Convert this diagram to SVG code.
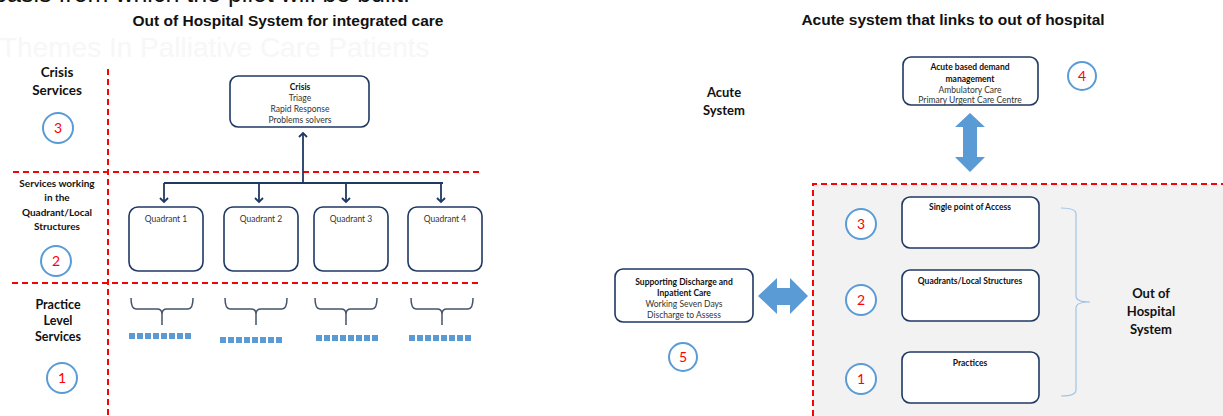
<svg xmlns="http://www.w3.org/2000/svg" width="1223" height="416" viewBox="0 0 1223 416">
<style>
.title{font-family:"Liberation Sans",Arial,sans-serif;font-weight:bold;font-size:15.5px;fill:#111;text-anchor:middle}
.lbl{font-family:Lato,"Liberation Sans",sans-serif;font-weight:bold;fill:#111;text-anchor:middle}
.bx{fill:#fff;stroke:#1f3864;stroke-width:1.6}
.bt{font-family:Lato,"Liberation Sans",sans-serif;font-size:8.5px;fill:#333;text-anchor:middle}
.bb{font-weight:bold;fill:#111}
.red{stroke:#ff0000;stroke-width:2;stroke-dasharray:6 4;fill:none}
.circ{fill:#fff;stroke:#5b9bd5;stroke-width:2}
.num{font-family:Lato,"Liberation Sans",sans-serif;font-size:14px;fill:#ff0000;text-anchor:middle}
.nav{stroke:#1f3864;stroke-width:1.8;fill:none}
.brk{stroke:#44546a;stroke-width:1.5;fill:none}
.sq{fill:#5b9bd5}
.bigarrow{fill:#5b9bd5}
</style>
<defs>
<marker id="ah" markerWidth="10" markerHeight="10" refX="5" refY="5" orient="auto" markerUnits="userSpaceOnUse">
<path d="M1,1 L5,5 L1,9" fill="none" stroke="#1f3864" stroke-width="1.8"/>
</marker>
</defs>
<rect width="1223" height="416" fill="#fff"/>
<text x="410" y="2" font-family="Liberation Sans,Arial,sans-serif" font-size="25" fill="#111" text-anchor="end">basis from which the pilot will be built.</text>
<text x="0" y="57" font-family="Liberation Sans,Arial,sans-serif" font-size="28" fill="#f7f7f7">Themes In Palliative Care Patients</text>
<text class="title" x="288" y="26">Out of Hospital System for integrated care</text>
<text class="title" x="953" y="25">Acute system that links to out of hospital</text>

<g id="dividers">
<line class="red" x1="108" y1="69" x2="108" y2="416"/>
<line class="red" x1="13" y1="172" x2="482" y2="172"/>
<line class="red" x1="12" y1="283" x2="482" y2="283"/>
</g>

<g id="row-labels">
<text class="lbl" x="57" y="77" font-size="13.5">Crisis</text>
<text class="lbl" x="57" y="95" font-size="13.5">Services</text>
<text class="lbl" x="57" y="187" font-size="10">Services working</text>
<text class="lbl" x="57" y="201" font-size="10">in the</text>
<text class="lbl" x="57" y="216" font-size="10">Quadrant/Local</text>
<text class="lbl" x="57" y="230" font-size="10">Structures</text>
<text class="lbl" x="58" y="309" font-size="12.5">Practice</text>
<text class="lbl" x="58" y="325" font-size="12.5">Level</text>
<text class="lbl" x="58" y="341" font-size="12.5">Services</text>
</g>

<g id="c3l"><circle class="circ" cx="58" cy="128" r="15"/><text class="num" x="58" y="133">3</text></g>
<g id="c2l"><circle class="circ" cx="56" cy="261" r="15"/><text class="num" x="56" y="266">2</text></g>
<g id="c1l"><circle class="circ" cx="62" cy="378" r="15"/><text class="num" x="62" y="383">1</text></g>

<g id="crisis">
<rect class="bx" x="230" y="76" width="139" height="51" rx="8"/>
<text class="bt bb" x="300" y="90">Crisis</text>
<text class="bt" x="300" y="101">Triage</text>
<text class="bt" x="300" y="112">Rapid Response</text>
<text class="bt" x="300" y="123">Problems solvers</text>
</g>

<g id="connectors">
<line class="nav" x1="303" y1="172" x2="303" y2="133" marker-end="url(#ah)"/>
<line class="nav" x1="303" y1="183" x2="303" y2="172"/>
<line class="nav" x1="164" y1="183" x2="443" y2="183"/>
<line class="nav" x1="164" y1="183" x2="164" y2="202" marker-end="url(#ah)"/>
<line class="nav" x1="259" y1="183" x2="259" y2="202" marker-end="url(#ah)"/>
<line class="nav" x1="346" y1="183" x2="346" y2="202" marker-end="url(#ah)"/>
<line class="nav" x1="441" y1="183" x2="441" y2="202" marker-end="url(#ah)"/>
</g>

<g id="q1"><rect class="bx" x="129" y="207" width="74" height="64" rx="9"/><text class="bt" x="166" y="222" font-size="9">Quadrant 1</text></g>
<g id="q2"><rect class="bx" x="224" y="207" width="74" height="64" rx="9"/><text class="bt" x="261" y="222" font-size="9">Quadrant 2</text></g>
<g id="q3"><rect class="bx" x="314" y="207" width="74" height="64" rx="9"/><text class="bt" x="351" y="222" font-size="9">Quadrant 3</text></g>
<g id="q4"><rect class="bx" x="408" y="207" width="74" height="64" rx="9"/><text class="bt" x="445" y="222" font-size="9">Quadrant 4</text></g>

<g id="practices">
<path class="brk" d="M131,298 Q131,309 136,309 L157,309 Q162,309 162,314 L162,325 M162,314 Q162,309 167,309 L188,309 Q193,309 193,298"/>
<path class="brk" d="M225,298 Q225,309 230,309 L251,309 Q256,309 256,314 L256,325 M256,314 Q256,309 261,309 L282,309 Q287,309 287,298"/>
<path class="brk" d="M315,298 Q315,309 320,309 L341,309 Q346,309 346,314 L346,325 M346,314 Q346,309 351,309 L372,309 Q377,309 377,298"/>
<path class="brk" d="M411,298 Q411,309 416,309 L437,309 Q442,309 442,314 L442,325 M442,314 Q442,309 447,309 L468,309 Q473,309 473,298"/>
<g class="sq">
<rect x="129" y="333" width="6" height="6"/><rect x="137" y="333" width="6" height="6"/><rect x="145" y="333" width="6" height="6"/><rect x="153" y="333" width="6" height="6"/><rect x="161" y="333" width="6" height="6"/><rect x="169" y="333" width="6" height="6"/><rect x="177" y="333" width="6" height="6"/><rect x="185" y="333" width="6" height="6"/>
<rect x="220" y="337" width="6" height="6"/><rect x="228" y="337" width="6" height="6"/><rect x="236" y="337" width="6" height="6"/><rect x="244" y="337" width="6" height="6"/><rect x="252" y="337" width="6" height="6"/><rect x="260" y="337" width="6" height="6"/><rect x="268" y="337" width="6" height="6"/><rect x="276" y="337" width="6" height="6"/>
<rect x="316" y="335" width="6" height="6"/><rect x="324" y="335" width="6" height="6"/><rect x="332" y="335" width="6" height="6"/><rect x="340" y="335" width="6" height="6"/><rect x="348" y="335" width="6" height="6"/><rect x="356" y="335" width="6" height="6"/><rect x="364" y="335" width="6" height="6"/><rect x="372" y="335" width="6" height="6"/>
<rect x="409" y="335" width="6" height="6"/><rect x="417" y="335" width="6" height="6"/><rect x="425" y="335" width="6" height="6"/><rect x="433" y="335" width="6" height="6"/><rect x="441" y="335" width="6" height="6"/><rect x="449" y="335" width="6" height="6"/><rect x="457" y="335" width="6" height="6"/><rect x="465" y="335" width="6" height="6"/>
</g>
</g>

<g id="acute-label">
<text class="lbl" x="724" y="97" font-size="13">Acute</text>
<text class="lbl" x="724" y="115" font-size="13">System</text>
</g>

<g id="acute-box">
<rect class="bx" x="903" y="57" width="135" height="48" rx="8"/>
<text class="bt bb" x="970" y="70">Acute based demand</text>
<text class="bt bb" x="970" y="82">management</text>
<text class="bt" x="970" y="93">Ambulatory Care</text>
<text class="bt" x="970" y="103">Primary Urgent Care Centre</text>
</g>
<g id="c4"><circle class="circ" cx="1082" cy="76" r="14"/><text class="num" x="1082" y="81">4</text></g>

<g id="ooh-region">
<rect x="813" y="184" width="420" height="240" fill="#f2f2f2"/>
<path class="red" d="M813,416 L813,184 L1223,184"/>
</g>

<g id="arrows-big">
<path class="bigarrow" d="M970,113 L985,127 L977,127 L977,157 L985,157 L970,172 L955,157 L963,157 L963,127 L955,127 Z"/>
<path class="bigarrow" d="M758,296 L777,278 L777,288 L790,288 L790,278 L808,296 L790,314 L790,305 L777,305 L777,314 Z"/>
</g>

<g id="spa"><rect class="bx" x="902" y="197" width="137" height="51" rx="8"/><text class="bt bb" x="970" y="210" font-size="9.3">Single point of Access</text></g>
<g id="qls"><rect class="bx" x="902" y="270" width="137" height="51" rx="8"/><text class="bt bb" x="970" y="284" font-size="9.3">Quadrants/Local Structures</text></g>
<g id="prac"><rect class="bx" x="902" y="352" width="137" height="51" rx="8"/><text class="bt bb" x="970" y="366" font-size="9.3">Practices</text></g>

<g id="c3r"><circle class="circ" cx="861" cy="224" r="15"/><text class="num" x="861" y="229">3</text></g>
<g id="c2r"><circle class="circ" cx="861" cy="300" r="15"/><text class="num" x="861" y="305">2</text></g>
<g id="c1r"><circle class="circ" cx="861" cy="379" r="15"/><text class="num" x="861" y="384">1</text></g>

<g id="brace">
<path d="M1061,208 Q1076,208 1076,214 L1076,296 Q1076,302 1090,302 Q1076,302 1076,308 L1076,390 Q1076,396 1061,396" fill="none" stroke="#9dc3e6" stroke-width="1.2"/>
</g>
<g id="ooh-label">
<text class="lbl" x="1151" y="298" font-size="13">Out of</text>
<text class="lbl" x="1151" y="316" font-size="13">Hospital</text>
<text class="lbl" x="1151" y="334" font-size="13">System</text>
</g>

<g id="discharge">
<rect class="bx" x="615" y="269" width="138" height="53" rx="8"/>
<text class="bt bb" x="684" y="285" font-size="9">Supporting Discharge and</text>
<text class="bt bb" x="684" y="296" font-size="9">Inpatient Care</text>
<text class="bt" x="684" y="307" font-size="9">Working Seven Days</text>
<text class="bt" x="684" y="318" font-size="9">Discharge to Assess</text>
</g>
<g id="c5"><circle class="circ" cx="683" cy="357" r="14"/><text class="num" x="683" y="362">5</text></g>
</svg>
